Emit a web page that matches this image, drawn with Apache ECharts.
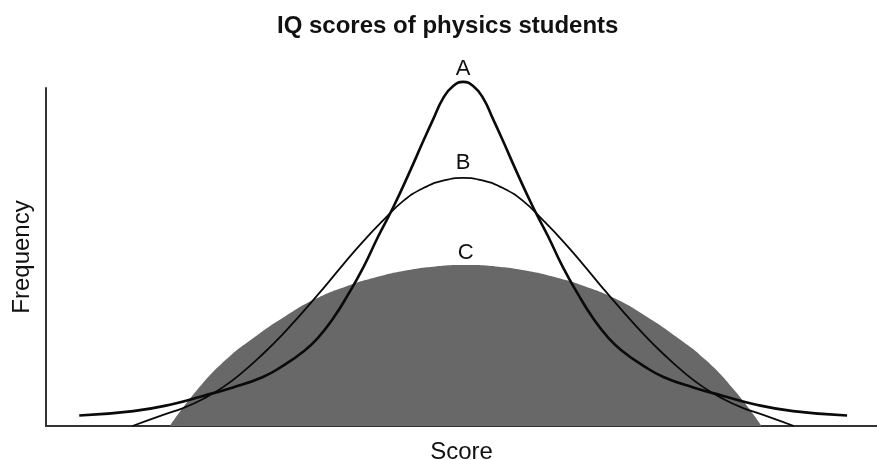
<!DOCTYPE html>
<html>
<head>
<meta charset="utf-8">
<title>IQ scores of physics students</title>
<script src="https://cdn.jsdelivr.net/npm/echarts@6/dist/echarts.min.js"></script>
<style>
  html, body { margin: 0; padding: 0; background: #ffffff; }
  #chart { width: 877px; height: 460px; }
</style>
</head>
<body>
<div id="chart"></div>
<script>
// Distribution A: narrow, tall peak with long tails
const scoresA = [54.0, 60.5, 65.3, 68.9, 72.5, 76.1, 78.5, 80.9, 82.7, 84.6, 86.4, 88.2, 90.0, 91.8, 93.6, 95.4, 96.6, 97.8, 99.0,
                 100.2,
                 101.4, 102.6, 103.8, 105.0, 106.8, 108.6, 110.4, 112.2, 114.0, 115.8, 117.7, 119.5, 121.9, 124.3, 127.9, 131.5, 135.1, 139.9, 146.4];
const freqA   = [3.1, 4.4, 6.5, 8.9, 11.4, 14.5, 17.8, 21.9, 26.0, 32.0, 39.1, 47.0, 56.2, 64.8, 74.3, 84.3, 90.8, 97.0, 100.6,
                 101.8,
                 100.6, 97.0, 90.8, 84.3, 74.3, 64.8, 56.2, 47.0, 39.1, 32.0, 26.0, 21.9, 17.8, 14.5, 11.4, 8.9, 6.5, 4.4, 3.1];

// Distribution B: wider, lower peak
const scoresB = [60.4, 64.1, 66.5, 68.9, 71.3, 73.7, 76.1, 78.5, 80.9, 83.4, 85.8, 88.2, 90.6, 93.0, 95.4, 97.8,
                 100.2,
                 102.6, 105.0, 107.4, 109.8, 112.2, 114.6, 117.0, 119.5, 121.9, 124.3, 126.7, 129.1, 131.5, 133.9, 136.3, 140.0];
const freqB   = [0, 3.3, 5.3, 8.0, 11.5, 16.0, 21.3, 27.2, 33.7, 40.8, 47.9, 54.7, 60.9, 66.6, 70.4, 72.6,
                 73.4,
                 72.6, 70.4, 66.6, 60.9, 54.7, 47.9, 40.8, 33.7, 27.2, 21.3, 16.0, 11.5, 8.0, 5.3, 3.3, 0];

// Distribution C: broad, flat dome (filled)
const scoresC = [64.9, 68.0, 71.6, 75.2, 78.8, 82.5, 86.1, 89.7, 93.3, 96.9,
                 100.5,
                 104.1, 107.7, 111.3, 114.9, 118.5, 122.2, 125.8, 129.4, 133.0, 136.1];
const freqC   = [0, 10.1, 19.5, 26.5, 32.5, 37.7, 41.3, 44.0, 46.0, 47.2,
                 47.6,
                 47.2, 46.0, 44.0, 41.3, 37.7, 32.5, 26.5, 19.5, 10.1, 0];

const curveNames = ['A', 'B', 'C'];

const FONT = "'Liberation Sans', Arial, Helvetica, sans-serif";

// Build [x, y] points; the highest point carries the curve's letter label
function buildPoints(xs, ys, name, labelGap) {
  let peak = 0;
  ys.forEach((v, i) => { if (v > ys[peak]) peak = i; });
  return xs.map((x, i) => {
    if (i !== peak) return [x, ys[i]];
    return {
      value: [x, ys[i]],
      label: {
        show: true,
        position: 'top',
        distance: labelGap,
        formatter: name,
        fontFamily: FONT,
        fontSize: 22,
        color: '#111111'
      }
    };
  });
}

// Shared settings for the three curves: invisible point markers so the
// peak labels can still be anchored
function curve(name, xs, ys, labelGap, extra) {
  return Object.assign({
    name: name,
    type: 'line',
    smooth: true,
    clip: false,
    showSymbol: true,
    symbol: 'circle',
    symbolSize: 0,
    itemStyle: { color: 'rgba(0,0,0,0)' },
    label: { show: false },
    emphasis: { disabled: true },
    data: buildPoints(xs, ys, name, labelGap)
  }, extra);
}

const chart = echarts.init(document.getElementById('chart'), null, { renderer: 'canvas' });

chart.setOption({
  backgroundColor: '#ffffff',
  animation: false,
  title: {
    text: 'IQ scores of physics students',
    left: 277,
    top: 14,
    padding: 0,
    textStyle: { fontFamily: FONT, fontSize: 24, fontWeight: 'bold', color: '#111111' }
  },
  grid: { left: 46, right: 0, top: 88, bottom: 34, containLabel: false, outerBoundsMode: 'none' },
  xAxis: {
    type: 'value',
    min: 50,
    max: 150,
    name: 'Score',
    nameLocation: 'middle',
    nameGap: 14,
    nameTextStyle: { fontFamily: FONT, fontSize: 24, color: '#111111' },
    axisLine: { show: true, onZero: false, lineStyle: { color: '#333333', width: 2 } },
    axisTick: { show: false },
    axisLabel: { show: false },
    splitLine: { show: false }
  },
  yAxis: {
    type: 'value',
    min: 0,
    max: 100,
    name: 'Frequency',
    nameLocation: 'middle',
    nameGap: 12,
    nameTextStyle: { fontFamily: FONT, fontSize: 24, color: '#111111' },
    axisLine: { show: true, lineStyle: { color: '#333333', width: 2 } },
    axisTick: { show: false },
    axisLabel: { show: false },
    splitLine: { show: false }
  },
  series: [
    curve(curveNames[2], scoresC, freqC, 1, {
      lineStyle: { width: 0, color: '#686868' },
      areaStyle: { color: '#686868', opacity: 1 },
      z: 1
    }),
    curve(curveNames[1], scoresB, freqB, 4, {
      lineStyle: { width: 1.8, color: '#0a0a0a' },
      z: 2
    }),
    curve(curveNames[0], scoresA, freqA, 2, {
      lineStyle: { width: 2.6, color: '#0a0a0a' },
      z: 3
    })
  ]
});
</script>
</body>
</html>
